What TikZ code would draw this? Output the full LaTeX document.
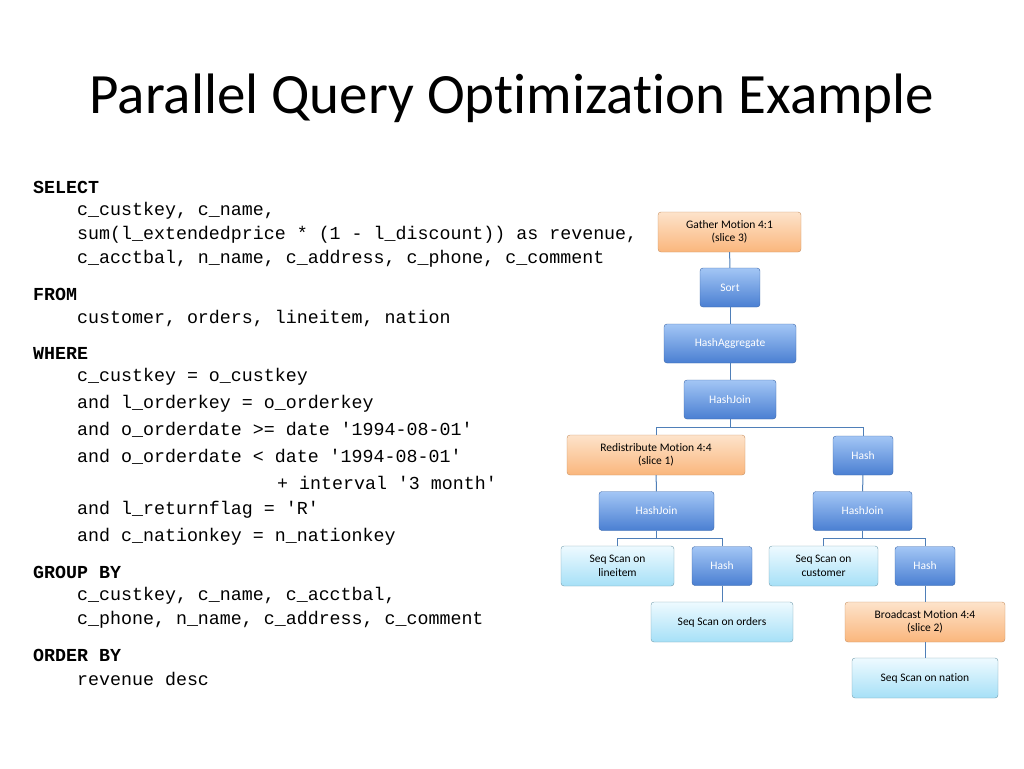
\documentclass[tikz,border=0pt]{standalone}
\usepackage{fontspec}
\setmainfont{Carlito}[Ligatures=NoCommon]
\newfontfamily\codefont{Liberation Mono}
\usetikzlibrary{positioning}
\definecolor{blueTop}{HTML}{A3C6F5}
\definecolor{blueBot}{HTML}{4A7FD2}
\definecolor{orgTop}{HTML}{FDE3CB}
\definecolor{orgBot}{HTML}{FAB67C}
\definecolor{cyanTop}{HTML}{EEFAFF}
\definecolor{cyanBot}{HTML}{A6E0F7}
\definecolor{edgeBlue}{HTML}{4F7FB8}

\begin{document}
\begin{tikzpicture}[
    x=1pt, y=-1pt,
    op/.style={rectangle, rounded corners=3pt, draw=blueBot!80!black, top color=blueTop, bottom color=blueBot, text=white, minimum height=39pt, align=center, font=\fontsize{11.5}{13.5}\selectfont},
    motion/.style={op, draw=orgBot!80!black, top color=orgTop, bottom color=orgBot, text=black},
    scan/.style={op, draw=cyanBot!70!black, top color=cyanTop, bottom color=cyanBot, text=black},
    line/.style={draw=edgeBlue, line width=1pt},
    code/.style={anchor=west, inner sep=0pt, font=\codefont\fontsize{18.3}{20}\selectfont},
    kw/.style={code, font=\codefont\bfseries\fontsize{18.3}{20}\selectfont}
  ]
    \useasboundingbox (0,0) rectangle (1024,768);
    \node (title) at (512,98) {\fontsize{57}{64}\selectfont Parallel Query Optimization Example};

    % query text
    \node [kw] (select) at (33,187) {SELECT};
    \node [code] (s1) at (77,211) {c\_custkey, c\_name,};
    \node [code] (s2) at (77,235) {sum(l\_extendedprice * (1 - l\_discount)) as revenue,};
    \node [code] (s3) at (77,259) {c\_acctbal, n\_name, c\_address, c\_phone, c\_comment};
    \node [kw] (from) at (33,294) {FROM};
    \node [code] (f1) at (77,318) {customer, orders, lineitem, nation};
    \node [kw] (where) at (33,353) {WHERE};
    \node [code] (w1) at (77,377) {c\_custkey = o\_custkey};
    \node [code] (w2) at (77,404) {and l\_orderkey = o\_orderkey};
    \node [code] (w3) at (77,430) {and o\_orderdate >= date '1994-08-01'};
    \node [code] (w4) at (77,457) {and o\_orderdate < date '1994-08-01'};
    \node [code] (w5) at (277,483) {+ interval '3 month'};
    \node [code] (w6) at (77,510) {and l\_returnflag = 'R'};
    \node [code] (w7) at (77,537) {and c\_nationkey = n\_nationkey};
    \node [kw] (group) at (33,572) {GROUP BY};
    \node [code] (g1) at (77,596) {c\_custkey, c\_name, c\_acctbal,};
    \node [code] (g2) at (77,620) {c\_phone, n\_name, c\_address, c\_comment};
    \node [kw] (order) at (33,655) {ORDER BY};
    \node [code] (o1) at (77,679) {revenue desc};

    % plan tree
    \node [motion, minimum width=143pt, minimum height=40pt] (gather) at (729.5,232) {Gather Motion 4:1\\(slice 3)};
    \node [op, minimum width=60pt] (sort) at (730,287.5) {Sort};
    \node [op, minimum width=132pt] (hashagg) at (730,343.5) {HashAggregate};
    \node [op, minimum width=92pt] (hashjoin) at (730,399.5) {HashJoin};
    \node [motion, minimum width=178pt, minimum height=40pt] (redist) at (656,455) {Redistribute Motion 4:4\\(slice 1)};
    \node [op, minimum width=60pt] (hash) at (863,455.5) {Hash};
    \node [op, minimum width=115pt] (joinleft) at (656.5,511) {HashJoin};
    \node [op, minimum width=99pt] (joinright) at (862.5,511) {HashJoin};
    \node [scan, minimum width=113pt, minimum height=40pt] (scanlineitem) at (617.5,566) {Seq Scan on\\lineitem};
    \node [op, minimum width=60pt] (hashleft) at (722,566) {Hash};
    \node [scan, minimum width=109pt, minimum height=40pt] (scancustomer) at (823.5,566) {Seq Scan on\\customer};
    \node [op, minimum width=60pt] (hashright) at (925,566) {Hash};
    \node [scan, minimum width=142pt, minimum height=40pt] (scanorders) at (722,622) {Seq Scan on orders};
    \node [motion, minimum width=160pt, minimum height=40pt] (broadcast) at (925,622) {Broadcast Motion 4:4\\(slice 2)};
    \node [scan, minimum width=146pt, minimum height=40pt] (scannation) at (925,678) {Seq Scan on nation};

    \path [line] (gather) -- (sort);
    \path [line] (sort) -- (hashagg);
    \path [line] (hashagg) -- (hashjoin);
    \path [line] (hashjoin.south) |- ++(0,8) -| (redist.north);
    \path [line] (hashjoin.south) |- ++(0,8) -| (hash.north);
    \path [line] (redist) -- (joinleft);
    \path [line] (hash) -- (joinright);
    \path [line] (joinleft.south) |- ++(0,8) -| (scanlineitem.north);
    \path [line] (joinleft.south) |- ++(0,8) -| (hashleft.north);
    \path [line] (joinright.south) |- ++(0,8) -| (scancustomer.north);
    \path [line] (joinright.south) |- ++(0,8) -| (hashright.north);
    \path [line] (hashleft) -- (scanorders);
    \path [line] (hashright) -- (broadcast);
    \path [line] (broadcast) -- (scannation);
\end{tikzpicture}
\end{document}
